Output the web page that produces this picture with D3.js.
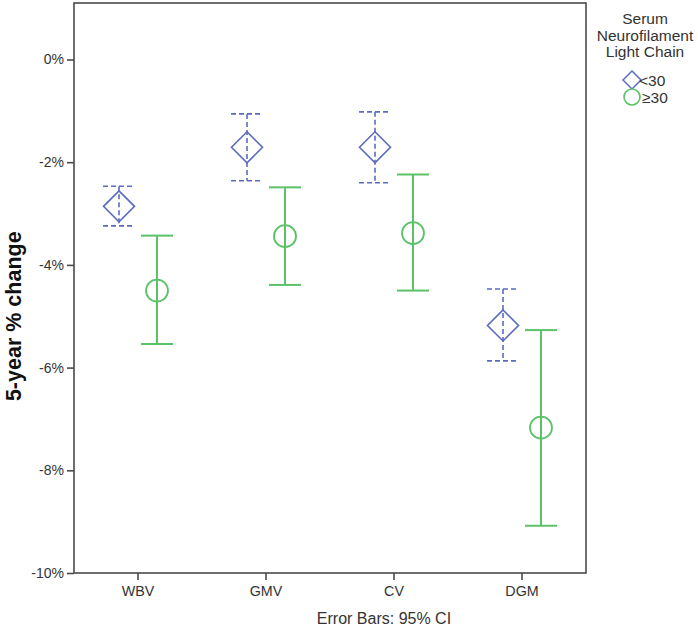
<!DOCTYPE html>
<html>
<head>
<meta charset="utf-8">
<script src="https://cdn.jsdelivr.net/npm/d3@7"></script>
<style>
  html, body { margin: 0; padding: 0; background: #fff; }
  svg { display: block; font-family: "Liberation Sans", Arial, sans-serif; }
</style>
</head>
<body>
<svg id="chart" width="698" height="627"></svg>
<script>
const categories = ["WBV", "GMV", "CV", "DGM"];
const groups = ["<30", "\u226530"];
const lowMean  = [-2.86, -1.71, -1.71, -5.18];
const lowLower = [-3.24, -2.36, -2.40, -5.87];
const lowUpper = [-2.47, -1.06, -1.02, -4.47];
const highMean  = [-4.50, -3.44, -3.38, -7.17];
const highLower = [-5.54, -4.39, -4.50, -9.08];
const highUpper = [-3.43, -2.49, -2.24, -5.27];
const yTicks = [0, -2, -4, -6, -8, -10];
const yTitle = "5-year % change";
const legendTitle = ["Serum", "Neurofilament", "Light Chain"];
const footnote = "Error Bars: 95% CI";

const blue = "#5b6bbf", green = "#5bc268", frameCol = "#4a4a4a";
const svg = d3.select("#chart");
const L = 74, R = 586, T = 3, B = 573;

const x = d3.scaleBand().domain(categories).range([L, R]).padding(0);
const off = d3.scalePoint().domain(groups).range([-19, 19]);
const y = d3.scaleLinear().domain([-10, 1.1]).range([B, T]);

// frame
svg.append("rect").attr("x", L).attr("y", T).attr("width", R - L).attr("height", B - T)
  .attr("fill", "none").attr("stroke", frameCol).attr("stroke-width", 1.6);

// y axis
const yAxis = svg.append("g").attr("transform", `translate(${L},0)`)
  .call(d3.axisLeft(y).tickValues(yTicks).tickSize(7).tickPadding(3).tickFormat(d => d + "%"));
yAxis.select(".domain").remove();
yAxis.selectAll("line").attr("stroke", frameCol).attr("stroke-width", 1.6);
yAxis.selectAll("text").attr("font-size", 14).attr("fill", "#333").attr("font-family", "Liberation Sans, Arial, sans-serif");

// x axis
const xAxis = svg.append("g").attr("transform", `translate(0,${B})`)
  .call(d3.axisBottom(x).tickSize(7).tickPadding(6));
xAxis.select(".domain").remove();
xAxis.selectAll("line").attr("stroke", frameCol).attr("stroke-width", 1.6);
xAxis.selectAll("text").attr("font-size", 14.3).attr("fill", "#333").attr("font-family", "Liberation Sans, Arial, sans-serif");

// y title
svg.append("text").attr("transform", `translate(21,${(y(-4) + y(-6)) / 2}) rotate(-90)`)
  .attr("text-anchor", "middle").attr("font-weight", "bold").attr("font-size", 21.5)
  .attr("fill", "#111").text(yTitle);

// footnote
svg.append("text").attr("x", 384).attr("y", 624).attr("text-anchor", "middle")
  .attr("font-size", 16).attr("fill", "#333").text(footnote);

// data
const series = [
  { g: groups[0], mean: lowMean, lo: lowLower, hi: lowUpper, color: blue, dash: "5,3", sw: 1.6, shape: "diamond" },
  { g: groups[1], mean: highMean, lo: highLower, hi: highUpper, color: green, dash: null, sw: 2, shape: "circle" }
];
const capHalf = 16;
series.forEach(s => {
  const gEl = svg.append("g");
  categories.forEach((c, i) => {
    const cx = x(c) + x.bandwidth() / 2 + off(s.g);
    const line = (x1, y1, x2, y2) => gEl.append("line")
      .attr("x1", x1).attr("y1", y1).attr("x2", x2).attr("y2", y2)
      .attr("stroke", s.color).attr("stroke-width", s.sw)
      .attr("stroke-dasharray", s.dash);
    line(cx, y(s.hi[i]), cx, y(s.lo[i]));
    line(cx - capHalf, y(s.hi[i]), cx + capHalf, y(s.hi[i]));
    line(cx - capHalf, y(s.lo[i]), cx + capHalf, y(s.lo[i]));
    const cy = y(s.mean[i]);
    if (s.shape === "diamond") {
      const h = 15.5;
      gEl.append("path").attr("d", `M${cx},${cy - h}L${cx + h},${cy}L${cx},${cy + h}L${cx - h},${cy}Z`)
        .attr("fill", "none").attr("stroke", s.color).attr("stroke-width", 1.6);
    } else {
      gEl.append("circle").attr("cx", cx).attr("cy", cy).attr("r", 11)
        .attr("fill", "none").attr("stroke", s.color).attr("stroke-width", 1.8);
    }
  });
});

// legend
const lg = svg.append("g");
legendTitle.forEach((t, i) => {
  lg.append("text").attr("x", 645).attr("y", 24 + i * 16.5).attr("text-anchor", "middle")
    .attr("font-size", 15.5).attr("fill", "#333").text(t);
});
const legY = [80, 97];
lg.append("path").attr("d", `M632,${legY[0] - 9}L641,${legY[0]}L632,${legY[0] + 9}L623,${legY[0]}Z`)
  .attr("fill", "none").attr("stroke", blue).attr("stroke-width", 1.5);
lg.append("circle").attr("cx", 632).attr("cy", legY[1]).attr("r", 8)
  .attr("fill", "none").attr("stroke", green).attr("stroke-width", 1.6);
groups.forEach((g, i) => {
  lg.append("text").attr("x", i === 0 ? 639 : 642).attr("y", legY[i] + 5.5)
    .attr("font-size", 15.5).attr("fill", "#333").text(g);
});
</script>
</body>
</html>
